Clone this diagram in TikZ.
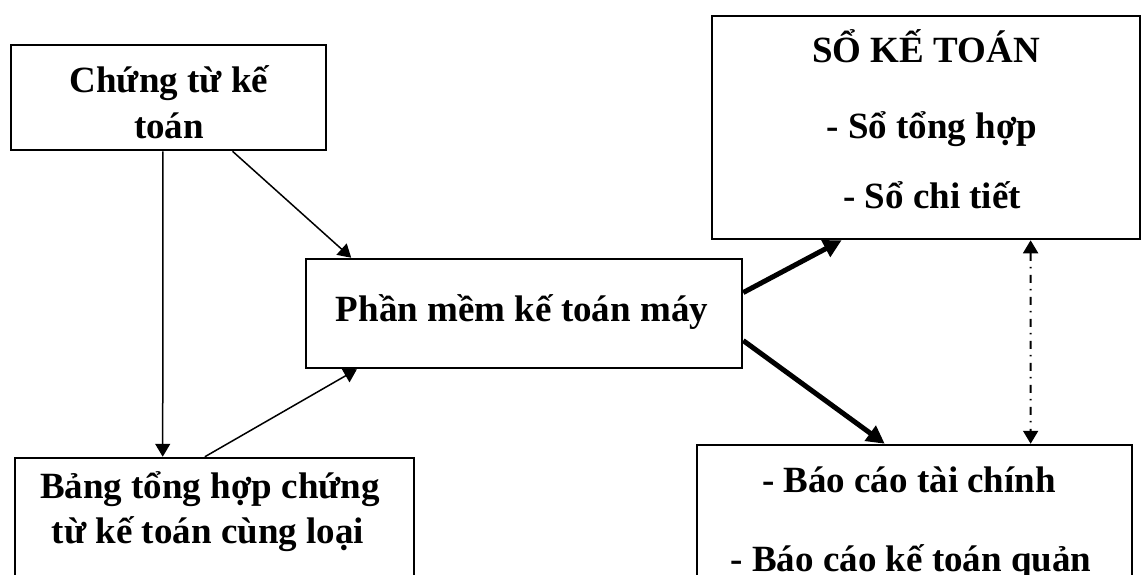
\documentclass[tikz,border=0pt]{standalone}
\usepackage{fontspec}
\setmainfont{Liberation Serif}
\usetikzlibrary{arrows.meta,calc}

\tikzset{
  box/.style={draw, line width=1.25pt, rectangle, inner sep=0pt},
  lbl/.style={anchor=base, inner sep=0pt,
    font=\bfseries\fontsize{18.5}{22}\selectfont},
  thinarrow/.style={line width=0.75pt, -{Triangle[length=6.5pt,width=7.5pt]}},
  thickarrow/.style={line width=2.5pt, -{Triangle[length=9pt,width=9pt]}},
  dashdotarrow/.style={line width=1pt,
    dash pattern=on 4pt off 3pt on 0.75pt off 3.25pt,
    {Triangle[length=6.5pt,width=7.5pt]}-{Triangle[length=6.5pt,width=7.5pt]}}
}

\begin{document}
\begin{tikzpicture}[x=0.5pt, y=-0.5pt]
  \useasboundingbox (0,0) rectangle (1142,574);
  \clip (0,0) rectangle (1142,574);

  % boxes
  \node[box, minimum width=157.5pt, minimum height=52.5pt] (b1) at (168.5,97.5) {};
  \node[box, minimum width=199.5pt, minimum height=81pt]   (b2) at (214.5,539) {};
  \node[box, minimum width=218pt,   minimum height=54.5pt] (b3) at (524,313.5) {};
  \node[box, minimum width=214pt,   minimum height=111.5pt] (b4) at (926,127.5) {};
  \node[box, minimum width=217.5pt, minimum height=87.5pt] (b5) at (914.5,532.5) {};

  % texts
  \node[lbl] (t1a) at (169,92)  {Chứng từ kế};
  \node[lbl] (t1b) at (169,138) {toán};
  \node[lbl] (t2a) at (210,498) {Bảng tổng hợp chứng};
  \node[lbl] (t2b) at (208,543) {từ kế toán cùng loại};
  \node[lbl] (t3)  at (522,321.5) {Phần mềm kế toán máy};
  \node[lbl] (t4a) at (926,62)  {SỔ KẾ TOÁN};
  \node[lbl] (t4b) at (932,138) {- Sổ tổng hợp};
  \node[lbl] (t4c) at (932,208) {- Sổ chi tiết};
  \node[lbl] (t5a) at (909,492) {- Báo cáo tài chính};
  \node[lbl] (t5b) at (911,571) {- Báo cáo kế toán quản};

  % connectors
  \draw[thinarrow] ($(b1.south west)!0.4825!(b1.south east)$) -- ($(b2.north west)!0.371!(b2.north east)$);
  \draw[thinarrow] ($(b1.south west)!0.7016!(b1.south east)$) -- ($(b3.north west)!0.106!(b3.north east)$);
  \draw[thinarrow] ($(b2.north west)!0.476!(b2.north east)$) -- ($(b3.south west)!0.119!(b3.south east)$);
  \draw[thickarrow] ($(b3.north east)!0.312!(b3.south east)$) -- ($(b4.south west)!0.304!(b4.south east)$);
  \draw[thickarrow] ($(b3.north east)!0.743!(b3.south east)$) -- ($(b5.north west)!0.432!(b5.north east)$);
  \draw[dashdotarrow] ($(b4.south west)!0.743!(b4.south east)$) -- ($(b5.north west)!0.7655!(b5.north east)$);
\end{tikzpicture}
\end{document}
